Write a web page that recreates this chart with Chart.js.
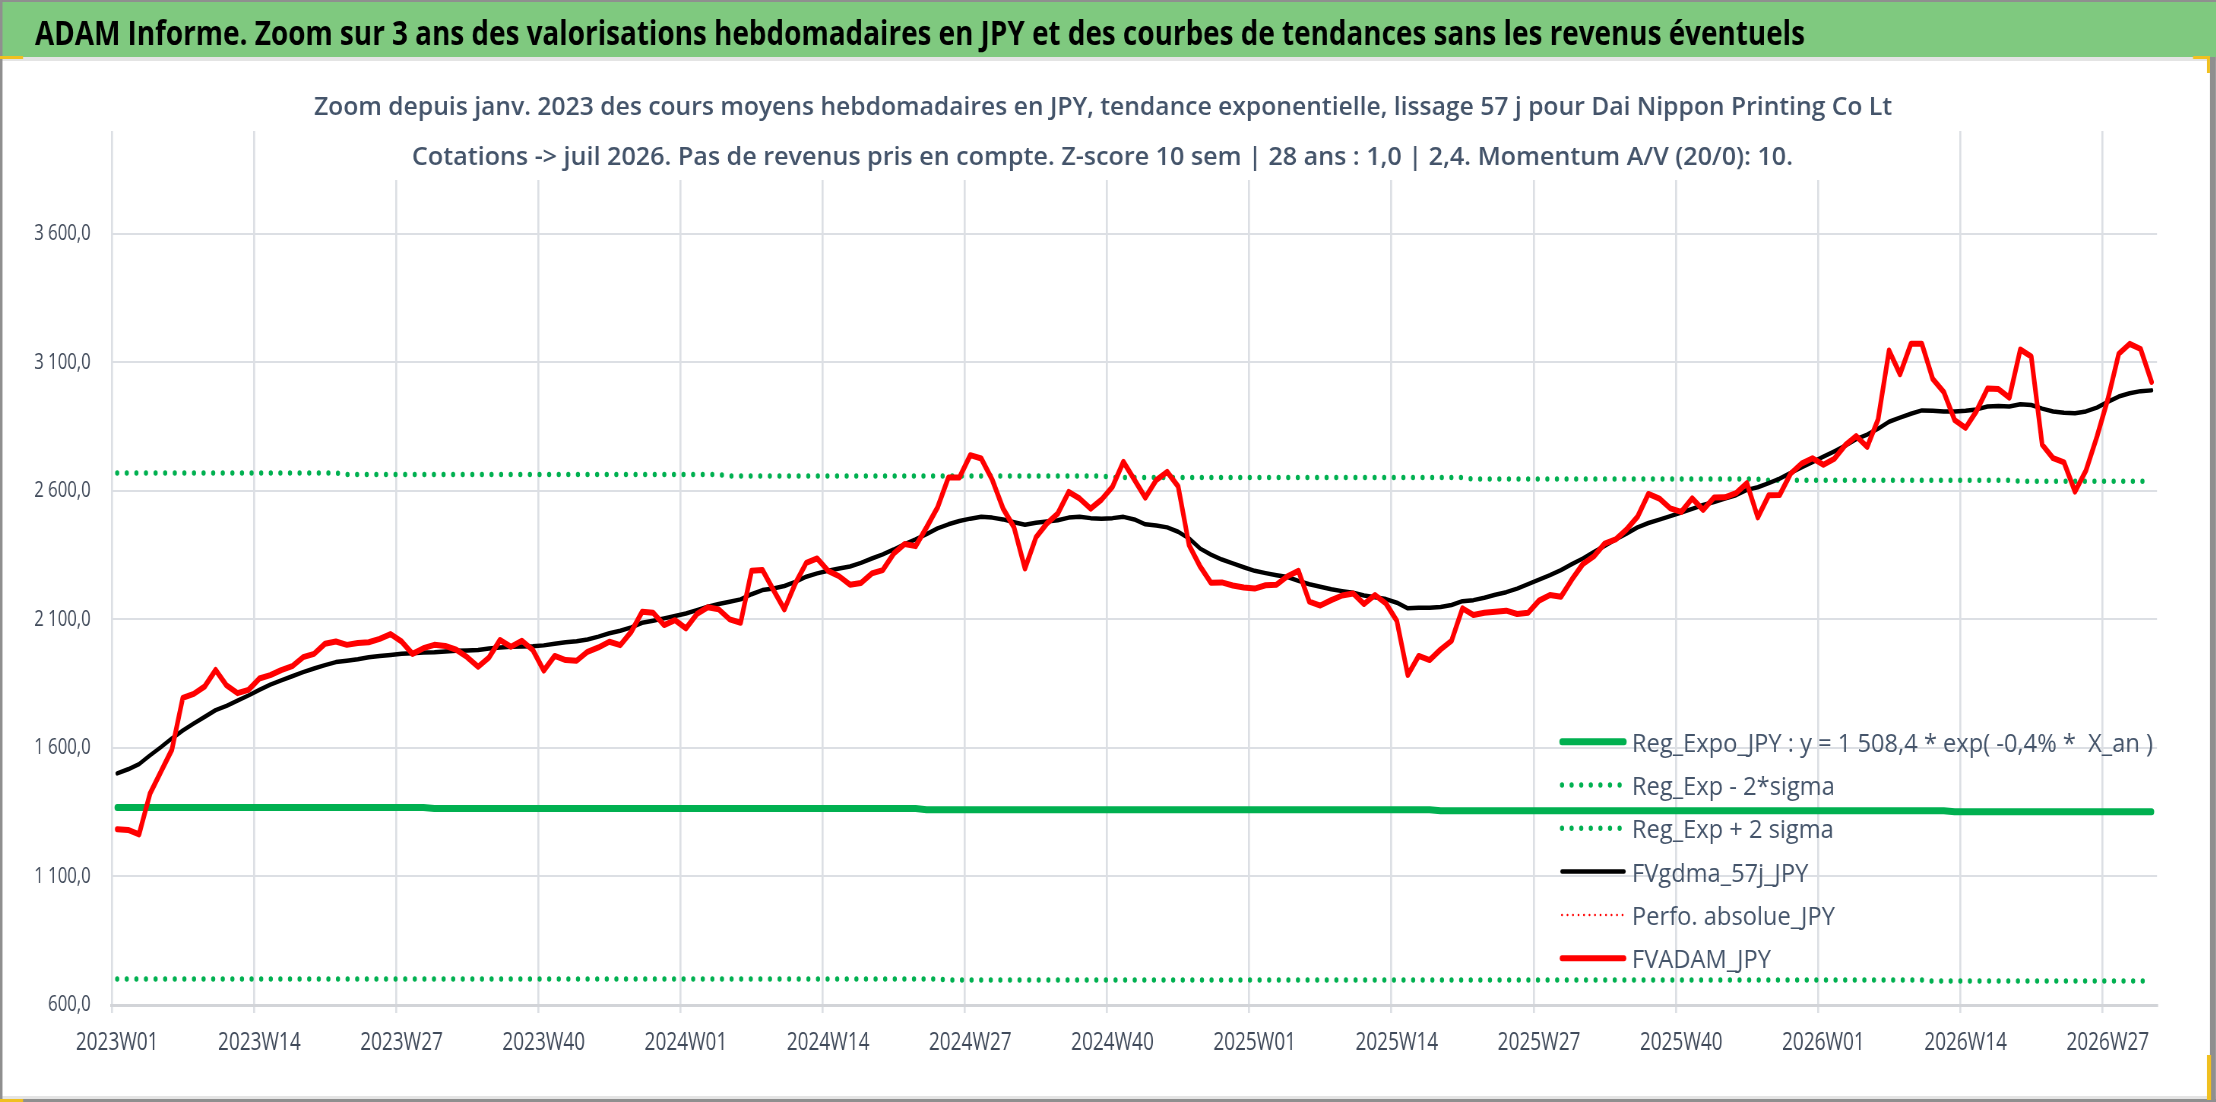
<!DOCTYPE html>
<html>
<head>
<meta charset="utf-8">
<script src="https://cdn.jsdelivr.net/npm/chart.js@4.4.1/dist/chart.umd.min.js"></script>
<style>
  html, body { margin: 0; padding: 0; background: #fff; overflow: hidden; }
  #wrap { width: 2216px; height: 1102px; overflow: hidden; }
  #c { display: block; transform-origin: 0 0; }
</style>
</head>
<body>
<div id="wrap"><canvas id="c"></canvas></div>
<script>
// the reference text is very narrow, so the canvas is drawn wider and squeezed back with scaleX
const S = 0.76;
const W = Math.round(2216 / S);
const H = 1102;
function X(px) { return px / S; }

const HEADER = 'ADAM Informe. Zoom sur 3 ans des valorisations hebdomadaires en JPY et des courbes de tendances sans les revenus éventuels';
const TITLE_LINES = [
  'Zoom depuis janv. 2023 des cours moyens hebdomadaires en JPY, tendance exponentielle, lissage 57 j pour Dai Nippon Printing Co Lt',
  'Cotations -> juil 2026. Pas de revenus pris en compte. Z-score 10 sem | 28 ans : 1,0 | 2,4. Momentum A/V (20/0): 10.'
];

// categories: one per ISO week, 2023W01 .. 2026W31
const WEEKS_PER_YEAR = [[2023, 52], [2024, 52], [2025, 52], [2026, 31]];
const WEEK_LABELS = [];
WEEKS_PER_YEAR.forEach(function (yw) {
  for (let w = 1; w <= yw[1]; w++) WEEK_LABELS.push(yw[0] + 'W' + String(w).padStart(2, '0'));
});

const X_TICK_LABELS = ['2023W01', '2023W14', '2023W27', '2023W40', '2024W01', '2024W14', '2024W27', '2024W40',
  '2025W01', '2025W14', '2025W27', '2025W40', '2026W01', '2026W14', '2026W27'];
const Y_TICKS = [600, 1100, 1600, 2100, 2600, 3100, 3600];
const Y_TICK_LABELS = ['600,0', '1 100,0', '1 600,0', '2 100,0', '2 600,0', '3 100,0', '3 600,0'];

const FVADAM_JPY = [
  1284, 1281, 1264, 1422, 1508, 1593, 1795, 1810, 1839, 1903,
  1843, 1813, 1826, 1870, 1883, 1903, 1918, 1953, 1966, 2005,
  2014, 2001, 2008, 2011, 2024, 2043, 2014, 1966, 1988, 2001,
  1997, 1982, 1953, 1916, 1952, 2020, 1994, 2017, 1981, 1901,
  1958, 1942, 1939, 1974, 1991, 2013, 2000, 2052, 2130, 2126,
  2078, 2097, 2065, 2121, 2147, 2139, 2100, 2087, 2289, 2292,
  2214, 2139, 2240, 2320, 2337, 2289, 2268, 2235, 2242, 2279,
  2292, 2356, 2393, 2385, 2458, 2535, 2652, 2652, 2739, 2726,
  2644, 2531, 2458, 2298, 2419, 2473, 2512, 2596, 2570, 2531,
  2566, 2616, 2713, 2644, 2574, 2642, 2674, 2618, 2389, 2307,
  2243, 2244, 2232, 2224, 2220, 2233, 2235, 2268, 2289, 2169,
  2154, 2175, 2193, 2201, 2160, 2195, 2162, 2094, 1884, 1958,
  1942, 1983, 2017, 2143, 2117, 2126, 2130, 2134, 2121, 2126,
  2173, 2195, 2188, 2255, 2315, 2345, 2395, 2411, 2450, 2499,
  2588, 2570, 2532, 2518, 2571, 2526, 2574, 2575, 2591, 2630,
  2497, 2583, 2584, 2667, 2706, 2727, 2702, 2725, 2778, 2813,
  2771, 2878, 3146, 3054, 3172, 3172, 3035, 2985, 2875, 2845,
  2911, 2998, 2996, 2963, 3150, 3123, 2780, 2727, 2711, 2597,
  2679, 2810, 2956, 3133, 3172, 3152, 3024
];

const FVGDMA_57J_JPY = [
  1501, 1517, 1537, 1571, 1603, 1637, 1668, 1695, 1721, 1747,
  1764, 1784, 1804, 1826, 1846, 1863, 1879, 1895, 1909, 1922,
  1934, 1939, 1945, 1953, 1958, 1962, 1966, 1968, 1971, 1972,
  1975, 1978, 1979, 1981, 1987, 1991, 1994, 1995, 1996, 1999,
  2005, 2011, 2015, 2022, 2033, 2046, 2056, 2069, 2087, 2095,
  2104, 2113, 2123, 2136, 2149, 2160, 2169, 2178, 2198, 2214,
  2220, 2230, 2246, 2266, 2279, 2289, 2298, 2306, 2320, 2337,
  2353, 2372, 2393, 2411, 2432, 2454, 2470, 2483, 2492, 2499,
  2496, 2489, 2478, 2468, 2476, 2481, 2486, 2496, 2499, 2494,
  2492, 2494, 2499, 2489, 2470, 2465, 2458, 2441, 2415, 2376,
  2352, 2333, 2318, 2303, 2289, 2280, 2272, 2265, 2250, 2237,
  2227, 2217, 2210, 2204, 2193, 2186, 2179, 2165, 2143, 2145,
  2145, 2148, 2156, 2171, 2175, 2184, 2196, 2206, 2220, 2237,
  2255, 2272, 2292, 2315, 2337, 2362, 2386, 2411, 2434, 2458,
  2475, 2488, 2502, 2516, 2530, 2545, 2557, 2570, 2583, 2604,
  2614, 2630, 2648, 2670, 2691, 2712, 2733, 2754, 2776, 2801,
  2819, 2842, 2869, 2885, 2900, 2913, 2912, 2909, 2909, 2912,
  2917, 2928, 2930, 2928, 2937, 2934, 2920, 2909, 2904, 2902,
  2909, 2924, 2946, 2967, 2980, 2988, 2991
];

const REG_EXPO_JPY = [
  1368, 1368, 1368, 1368, 1368, 1368, 1368, 1368, 1368, 1368,
  1368, 1368, 1368, 1368, 1368, 1368, 1368, 1368, 1368, 1368,
  1368, 1368, 1368, 1368, 1368, 1368, 1368, 1368, 1368, 1364,
  1364, 1364, 1364, 1364, 1364, 1364, 1364, 1364, 1364, 1364,
  1364, 1364, 1364, 1364, 1364, 1364, 1364, 1364, 1364, 1364,
  1364, 1364, 1364, 1364, 1364, 1364, 1364, 1364, 1364, 1364,
  1364, 1364, 1364, 1364, 1364, 1364, 1364, 1364, 1364, 1364,
  1364, 1364, 1364, 1364, 1360, 1360, 1360, 1360, 1360, 1360,
  1360, 1360, 1360, 1360, 1360, 1360, 1360, 1360, 1360, 1360,
  1360, 1360, 1360, 1360, 1360, 1360, 1360, 1360, 1360, 1360,
  1360, 1360, 1360, 1360, 1360, 1360, 1360, 1360, 1360, 1360,
  1360, 1360, 1360, 1360, 1360, 1360, 1360, 1360, 1360, 1360,
  1360, 1356, 1356, 1356, 1356, 1356, 1356, 1356, 1356, 1356,
  1356, 1356, 1356, 1356, 1356, 1356, 1356, 1356, 1356, 1356,
  1356, 1356, 1356, 1356, 1356, 1356, 1356, 1356, 1356, 1356,
  1356, 1356, 1356, 1356, 1356, 1356, 1356, 1356, 1356, 1356,
  1356, 1356, 1356, 1356, 1356, 1356, 1356, 1356, 1352, 1352,
  1352, 1352, 1352, 1352, 1352, 1352, 1352, 1352, 1352, 1352,
  1352, 1352, 1352, 1352, 1352, 1352, 1352
];

const REG_EXP_MINUS_2SIGMA = [
  701, 701, 701, 701, 701, 701, 701, 701, 701, 701,
  701, 701, 701, 701, 701, 701, 701, 701, 701, 701,
  701, 701, 701, 701, 701, 701, 701, 701, 701, 701,
  701, 701, 701, 701, 701, 701, 701, 701, 701, 701,
  701, 701, 701, 701, 701, 701, 701, 701, 701, 701,
  701, 701, 701, 701, 701, 701, 701, 701, 701, 701,
  701, 701, 701, 701, 701, 701, 701, 701, 701, 701,
  701, 701, 701, 701, 701, 701, 697, 697, 697, 697,
  697, 697, 697, 697, 697, 697, 697, 697, 697, 697,
  697, 697, 697, 697, 697, 697, 697, 697, 697, 697,
  697, 697, 697, 697, 697, 697, 697, 697, 697, 697,
  697, 697, 697, 697, 697, 697, 697, 697, 697, 697,
  697, 697, 697, 697, 697, 697, 697, 697, 697, 697,
  697, 697, 697, 697, 697, 697, 697, 697, 697, 697,
  697, 697, 697, 697, 697, 697, 697, 697, 697, 697,
  697, 697, 697, 697, 697, 697, 697, 697, 697, 697,
  697, 697, 697, 697, 697, 697, 693, 693, 693, 693,
  693, 693, 693, 693, 693, 693, 693, 693, 693, 693,
  693, 693, 693, 693, 693, 693, 693
];

const REG_EXP_PLUS_2SIGMA = [
  2670, 2670, 2670, 2670, 2670, 2670, 2670, 2670, 2670, 2670,
  2670, 2670, 2670, 2670, 2670, 2670, 2670, 2670, 2670, 2670,
  2670, 2664, 2664, 2664, 2664, 2664, 2664, 2664, 2664, 2664,
  2664, 2664, 2664, 2664, 2664, 2664, 2664, 2664, 2664, 2664,
  2664, 2664, 2664, 2664, 2664, 2664, 2664, 2664, 2664, 2664,
  2664, 2664, 2664, 2664, 2664, 2664, 2658, 2658, 2658, 2658,
  2658, 2658, 2658, 2658, 2658, 2658, 2658, 2658, 2658, 2658,
  2658, 2658, 2658, 2658, 2658, 2658, 2658, 2658, 2658, 2658,
  2658, 2658, 2658, 2658, 2658, 2658, 2658, 2658, 2658, 2658,
  2658, 2652, 2652, 2652, 2652, 2652, 2652, 2652, 2652, 2652,
  2652, 2652, 2652, 2652, 2652, 2652, 2652, 2652, 2652, 2652,
  2652, 2652, 2652, 2652, 2652, 2652, 2652, 2652, 2652, 2652,
  2652, 2652, 2652, 2652, 2646, 2646, 2646, 2646, 2646, 2646,
  2646, 2646, 2646, 2646, 2646, 2646, 2646, 2646, 2646, 2646,
  2646, 2646, 2646, 2646, 2646, 2646, 2646, 2646, 2646, 2646,
  2646, 2641, 2641, 2641, 2641, 2641, 2641, 2641, 2641, 2641,
  2641, 2641, 2641, 2641, 2641, 2641, 2641, 2641, 2641, 2641,
  2641, 2641, 2641, 2641, 2637, 2637, 2637, 2637, 2637, 2637,
  2637, 2637, 2637, 2637, 2637, 2637, 2637
];

// not visible in the zoomed window, only shown in the legend
const PERFO_ABSOLUE_JPY = [];

const GREEN = '#00b050';
const GRID = '#dcdfe4';
const TEXT = '#44546a';
const LABEL = '#404a5a';

Chart.defaults.font.family = '"Open Sans", sans-serif';

// draw text squeezed/stretched horizontally so it spans widthPx (reference pixels)
function fillFit(ctx, text, x, y, widthPx, align) {
  const k = X(widthPx) / ctx.measureText(text).width;
  ctx.save();
  ctx.translate(x, y);
  ctx.scale(k, 1);
  ctx.textAlign = align;
  ctx.fillText(text, 0, 0);
  ctx.restore();
  return k;
}

// frame, green header band and header text
const framePlugin = {
  id: 'frame',
  beforeDraw(chart) {
    const ctx = chart.ctx;
    ctx.save();
    ctx.fillStyle = '#ffffff';
    ctx.fillRect(0, 0, W, H);
    ctx.fillStyle = '#7fc97f';
    ctx.fillRect(0, 0, W, 57);
    ctx.fillStyle = '#e4e4e4';
    ctx.fillRect(0, 57, W, 4);
    ctx.fillRect(0, 1096, W, 3);
    ctx.fillStyle = '#8f8f8f';
    ctx.fillRect(0, 0, W, 2);
    ctx.fillRect(0, 1099, W, 3);
    ctx.fillRect(0, 0, X(2.5), H);
    ctx.fillRect(X(2210), 57, X(6), H - 57);
    ctx.fillStyle = '#f0c020';
    ctx.fillRect(0, 56, X(23), 3);
    ctx.fillRect(X(2193), 56, X(17), 3);
    ctx.fillRect(X(2207), 56, X(3), 17);
    ctx.fillRect(0, 1099, X(23), 3);
    ctx.fillRect(X(2207), 1055, X(4), 45);
    ctx.fillStyle = '#000000';
    ctx.font = 'bold 34px "Open Sans"';
    ctx.textBaseline = 'alphabetic';
    fillFit(ctx, HEADER, X(35), 45, 1770, 'left');
    ctx.restore();
  }
};

// the two title lines sit in a white box over the top of the plot area
const titleBoxPlugin = {
  id: 'titleBox',
  beforeDatasetsDraw(chart) {
    const ctx = chart.ctx;
    ctx.save();
    ctx.fillStyle = '#ffffff';
    ctx.fillRect(X(300), 80, X(1905 - 300), 100);
    ctx.fillStyle = TEXT;
    ctx.font = '600 26px "Open Sans"';
    ctx.textBaseline = 'alphabetic';
    fillFit(ctx, TITLE_LINES[0], X(1103), 115, 1578, 'center');
    fillFit(ctx, TITLE_LINES[1], X(1102.5), 165, 1381, 'center');
    ctx.restore();
  }
};

// legend inside the plot area, bottom right, no background
const legendPlugin = {
  id: 'insideLegend',
  afterDatasetsDraw(chart) {
    const ctx = chart.ctx;
    const dss = chart.data.datasets;
    ctx.save();
    ctx.font = '26px "Open Sans"';
    const k = X(521) / ctx.measureText(dss[0].label).width;
    dss.forEach(function (ds, i) {
      const y = 741.7 + i * 43.3;
      ctx.strokeStyle = ds.borderColor;
      ctx.lineWidth = ds.borderWidth;
      ctx.lineCap = 'round';
      ctx.setLineDash(ds.borderDash || []);
      ctx.beginPath();
      ctx.moveTo(X(1562), y);
      ctx.lineTo(X(1624), y);
      ctx.stroke();
      ctx.setLineDash([]);
      ctx.fillStyle = TEXT;
      ctx.textBaseline = 'alphabetic';
      ctx.save();
      ctx.translate(X(1632), y + 10);
      ctx.scale(k, 1);
      ctx.textAlign = 'left';
      ctx.fillText(ds.label, 0, 0);
      ctx.restore();
    });
    ctx.restore();
  }
};

const canvas = document.getElementById('c');
canvas.width = W;
canvas.height = H;
canvas.style.transform = 'scaleX(' + S + ')';

new Chart(canvas, {
  type: 'line',
  data: {
    labels: WEEK_LABELS,
    datasets: [
      { label: 'Reg_Expo_JPY : y = 1 508,4 * exp( -0,4% *  X_an )', data: REG_EXPO_JPY,
        borderColor: GREEN, borderWidth: 7, order: 5 },
      { label: 'Reg_Exp - 2*sigma', data: REG_EXP_MINUS_2SIGMA,
        borderColor: GREEN, borderWidth: 5.5, borderDash: [0, X(9.6)], borderCapStyle: 'round', order: 4 },
      { label: 'Reg_Exp + 2 sigma', data: REG_EXP_PLUS_2SIGMA,
        borderColor: GREEN, borderWidth: 5.5, borderDash: [0, X(9.6)], borderCapStyle: 'round', order: 3 },
      { label: 'FVgdma_57j_JPY', data: FVGDMA_57J_JPY,
        borderColor: '#000000', borderWidth: 4.5, order: 2 },
      { label: 'Perfo. absolue_JPY', data: PERFO_ABSOLUE_JPY,
        borderColor: '#ff0000', borderWidth: 2.5, borderDash: [0, X(5.5)], borderCapStyle: 'round', order: 1 },
      { label: 'FVADAM_JPY', data: FVADAM_JPY,
        borderColor: '#ff0000', borderWidth: 6, order: 0 }
    ]
  },
  options: {
    responsive: false,
    animation: false,
    layout: { padding: { top: 131, right: W - X(2157), bottom: 0, left: 0 } },
    elements: {
      point: { radius: 0 },
      line: { tension: 0, borderJoinStyle: 'round', borderCapStyle: 'round' }
    },
    plugins: {
      legend: { display: false },
      title: { display: false },
      tooltip: { enabled: false }
    },
    scales: {
      x: {
        offset: true,
        grid: {
          offset: true,
          color: function (c) { return c.index % 13 === 0 ? GRID : 'rgba(0,0,0,0)'; },
          lineWidth: X(2),
          drawTicks: true,
          tickLength: 8
        },
        border: { display: true, color: '#d2d4d8', width: 3 },
        ticks: {
          autoSkip: false,
          maxRotation: 0,
          minRotation: 0,
          padding: 15,
          color: LABEL,
          font: { size: 25 },
          callback: function (v, i) {
            const lab = WEEK_LABELS[i];
            return X_TICK_LABELS.indexOf(lab) >= 0 ? lab : '';
          }
        },
        afterFit: function (scale) { scale.height = H - 1005; }
      },
      y: {
        min: 600,
        max: 4000,
        afterBuildTicks: function (scale) {
          scale.ticks = Y_TICKS.map(function (v) { return { value: v }; });
        },
        grid: { color: GRID, lineWidth: 2, drawTicks: false },
        border: { display: false },
        ticks: {
          padding: X(21),
          color: LABEL,
          font: { size: 22 },
          callback: function (v) { return Y_TICK_LABELS[Y_TICKS.indexOf(v)]; }
        },
        afterFit: function (scale) { scale.width = X(111.7); }
      }
    }
  },
  plugins: [framePlugin, titleBoxPlugin, legendPlugin]
});
</script>
</body>
</html>
